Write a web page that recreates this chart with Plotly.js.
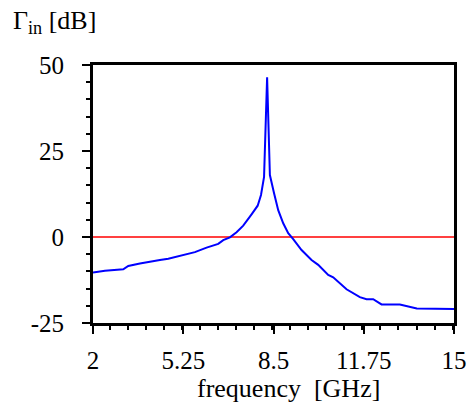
<!DOCTYPE html>
<html>
<head>
<meta charset="utf-8">
<script src="https://cdn.plot.ly/plotly-3.0.1.min.js"></script>
<style>html,body{margin:0;padding:0;background:#fff;}#chart{width:471px;height:403px;}</style>
</head>
<body>
<div id="chart"></div>
<script>
// Frequency (GHz) and input reflection (dB)
const freq = [2.0, 2.43, 3.09, 3.27, 3.69, 4.05, 4.41, 4.71, 5.01, 5.37, 5.67, 6.09, 6.51, 6.69, 6.93, 7.17, 7.41, 7.71, 7.93, 8.05, 8.16, 8.27, 8.37, 8.52, 8.67, 8.85, 9.03, 9.21, 9.51, 9.87, 10.11, 10.47, 10.65, 11.13, 11.61, 11.85, 12.09, 12.39, 13.05, 13.66, 14.5, 15.0];
const gammaIn = [-10.3, -9.8, -9.4, -8.4, -7.7, -7.1, -6.7, -6.3, -5.7, -5.2, -4.4, -3.1, -2.0, -0.9, -0.1, 1.4, 3.3, 6.6, 9.1, 12.2, 17.5, 46.4, 18.0, 12.7, 7.8, 4.0, 1.1, -0.6, -3.8, -6.7, -8.1, -11.0, -11.7, -15.2, -17.5, -18.1, -18.1, -19.6, -19.6, -20.8, -20.8, -20.9];
const refFreq = [2, 15];
const refLevel = [0, 0];
const xTicks = [2, 5.25, 8.5, 11.75, 15];
const xTickText = ['2', '5.25', '8.5', '11.75', '15'];
const yTicks = [50, 25, 0, -25];
const yTickText = ['50', '25', '0', '-25'];

const family = 'Liberation Serif, Times New Roman, serif';
const tickFont = {family: family, size: 25, color: '#000'};
const titleFont = {family: family, size: 26, color: '#000'};

const traces = [
  {x: refFreq, y: refLevel, mode: 'lines', line: {color: '#ff0000', width: 1.5}, hoverinfo: 'skip'},
  {x: freq, y: gammaIn, mode: 'lines', line: {color: '#0000ff', width: 2}}
];

const W = 471, H = 403, L = 93, R = 17, T = 65, B = 80;
const pw = W - L - R, ph = H - T - B;
const px2x = p => (p - L) / pw;
const px2y = p => (H - B - p) / ph;

const layout = {
  width: W, height: H,
  margin: {l: L, r: R, t: T, b: B, pad: 0},
  paper_bgcolor: '#fff', plot_bgcolor: '#fff',
  showlegend: false,
  font: tickFont,
  xaxis: {
    range: [2, 15], tickmode: 'array', tickvals: xTicks, ticktext: xTickText,
    showgrid: false, zeroline: false,
    showline: true, linecolor: '#000', linewidth: 3, mirror: true,
    ticks: 'outside', ticklen: 8, tickwidth: 2, tickcolor: '#000',
    minor: {dtick: 0.65, ticks: 'outside', ticklen: 4, tickwidth: 2, tickcolor: '#000', showgrid: false},
    tickfont: tickFont, ticklabelstandoff: 5
  },
  yaxis: {
    range: [-25, 50], tickmode: 'array', tickvals: yTicks, ticktext: yTickText,
    showgrid: false, zeroline: false,
    showline: true, linecolor: '#000', linewidth: 3, mirror: true,
    ticks: 'outside', ticklen: 8, tickwidth: 2, tickcolor: '#000',
    minor: {dtick: 5, ticks: 'outside', ticklen: 4, tickwidth: 2, tickcolor: '#000', showgrid: false},
    tickfont: tickFont, ticklabelstandoff: 13
  },
  annotations: [
    {
      text: 'Γ<sub>in</sub> [dB]', showarrow: false,
      xref: 'paper', yref: 'paper',
      x: px2x(11), y: px2y(22),
      xanchor: 'left', yanchor: 'middle',
      font: titleFont
    },
    {
      text: 'frequency  [GHz]', showarrow: false,
      xref: 'paper', yref: 'paper',
      x: px2x(288), y: px2y(388),
      xanchor: 'center', yanchor: 'middle',
      font: titleFont
    }
  ]
};

Plotly.newPlot('chart', traces, layout, {displayModeBar: false, staticPlot: true});
</script>
</body>
</html>
